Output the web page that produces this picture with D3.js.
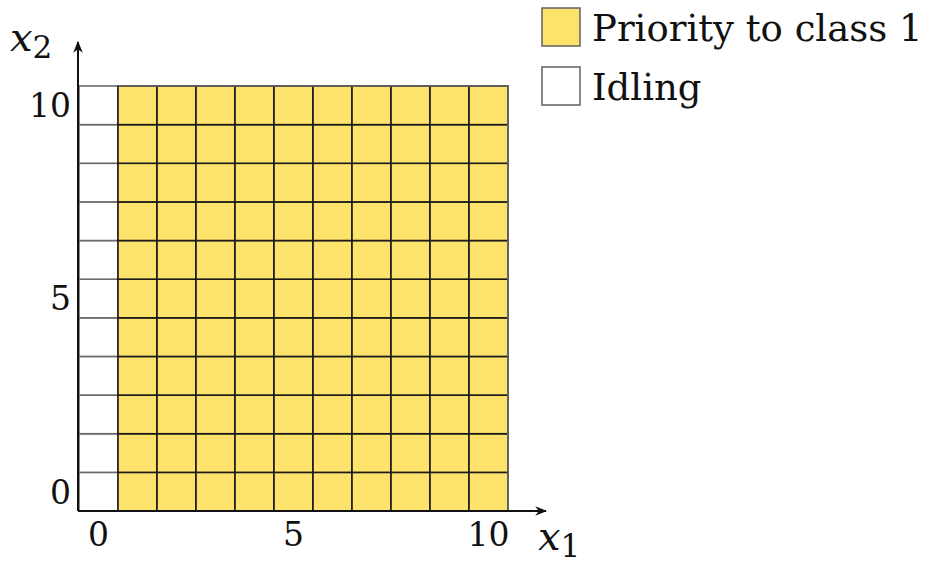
<!DOCTYPE html>
<html><head><meta charset="utf-8">
<script src="https://cdn.jsdelivr.net/npm/d3@7"></script>
<style>body{margin:0;background:#fff}svg{display:block}</style>
</head><body>
<svg id="c" width="926" height="564"></svg>
<script>
const x1Values = [0,1,2,3,4,5,6,7,8,9,10];
const x2Values = [0,1,2,3,4,5,6,7,8,9,10];
// policy for each x1 column (same for all x2)
const columnPolicy = ["Idling","P1","P1","P1","P1","P1","P1","P1","P1","P1","P1"];
const tickLabels = [0,5,10];
const legendItems = [{key:"P1",label:"Priority to class 1"},{key:"Idling",label:"Idling"}];
const colors = {P1:"#fde26c", Idling:"#ffffff"};
const FONT = "'DejaVu Serif','Liberation Serif',serif";

const svg = d3.select("#c");
const L=79,R=508,T=86,B=511;
const x = d3.scaleBand().domain(x1Values).range([L,R]);
const y = d3.scaleBand().domain(x2Values).range([B,T]);

const cells = [];
x1Values.forEach((a,i)=>x2Values.forEach(b=>cells.push({x:a,y:b,p:columnPolicy[i]})));

const g = svg.append("g");
g.selectAll("rect.w").data(cells.filter(d=>d.p==="Idling")).join("rect")
 .attr("x",d=>x(d.x)).attr("y",d=>y(d.y)).attr("width",x.bandwidth()).attr("height",y.bandwidth())
 .attr("fill",d=>colors[d.p]).attr("stroke","#6a6a6a").attr("stroke-width",1.6);
g.selectAll("rect.y").data(cells.filter(d=>d.p!=="Idling")).join("rect")
 .attr("x",d=>x(d.x)).attr("y",d=>y(d.y)).attr("width",x.bandwidth()).attr("height",y.bandwidth())
 .attr("fill",d=>colors[d.p]).attr("stroke","#1a1a1a").attr("stroke-width",1.6);
g.append("line").attr("x1",x(1)).attr("x2",R).attr("y1",T).attr("y2",T).attr("stroke","#6a6a6a").attr("stroke-width",1.6);
g.append("line").attr("x1",R).attr("x2",R).attr("y1",T).attr("y2",B).attr("stroke","#6a6a6a").attr("stroke-width",1.6);

const defs = svg.append("defs");
defs.append("marker").attr("id","arr").attr("viewBox","0 0 10 10").attr("refX",9).attr("refY",5)
 .attr("markerWidth",12).attr("markerHeight",12).attr("markerUnits","userSpaceOnUse").attr("orient","auto")
 .append("path").attr("d","M0,1 L10,5 L0,9 L3,5 Z").attr("fill","#111");
svg.append("line").attr("x1",L-1).attr("y1",B).attr("x2",546).attr("y2",B).attr("stroke","#111").attr("stroke-width",2).attr("marker-end","url(#arr)");
svg.append("line").attr("x1",L-1).attr("y1",B).attr("x2",L-1).attr("y2",42).attr("stroke","#111").attr("stroke-width",2).attr("marker-end","url(#arr)");

const xa = svg.append("g").attr("transform",`translate(0,${B})`)
 .call(d3.axisBottom(x).tickValues(tickLabels).tickSize(0).tickPadding(11));
xa.select(".domain").remove();
xa.selectAll("text").attr("font-size",33).attr("font-family",FONT).attr("fill","#111").attr("dy","0.74em");
const ya = svg.append("g").attr("transform",`translate(${L-8},0)`)
 .call(d3.axisLeft(y).tickValues(tickLabels).tickSize(0).tickPadding(0));
ya.select(".domain").remove();
ya.selectAll("text").attr("font-size",33).attr("font-family",FONT).attr("fill","#111").attr("dy","0.36em");

const t1 = svg.append("text").attr("x",538).attr("y",550).attr("font-family",FONT).attr("font-size",40).attr("fill","#111");
t1.append("tspan").attr("font-style","italic").text("x");
t1.append("tspan").attr("dy",7).attr("font-size",31).text("1");
const t2 = svg.append("text").attr("x",10).attr("y",51).attr("font-family",FONT).attr("font-size",40).attr("fill","#111");
t2.append("tspan").attr("font-style","italic").text("x");
t2.append("tspan").attr("dy",7).attr("font-size",31).text("2");

const lg = svg.append("g").selectAll("g").data(legendItems).join("g")
 .attr("transform",(d,i)=>`translate(542,${8+i*59})`);
lg.append("rect").attr("width",38).attr("height",38).attr("fill",d=>colors[d.key]).attr("stroke","#6a6a6a").attr("stroke-width",1.6);
lg.append("text").attr("x",50).attr("y",33).attr("font-family",FONT).attr("font-size",37).attr("fill","#111").text(d=>d.label);
</script>
</body></html>
